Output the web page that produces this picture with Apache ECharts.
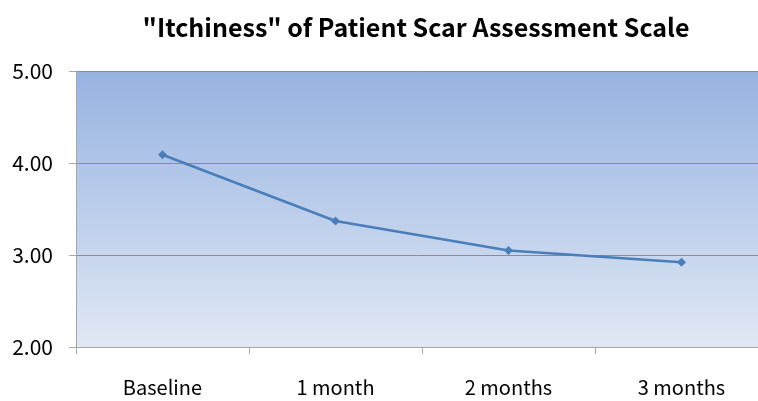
<!DOCTYPE html>
<html><head><meta charset="utf-8">
<script src="https://cdn.jsdelivr.net/npm/echarts@6/dist/echarts.min.js"></script>
<style>html,body{margin:0;padding:0;background:#fff;overflow:hidden}#c{width:758px;height:401px}</style>
</head><body><div id="c"></div>
<script>
const titleText = '"Itchiness" of Patient Scar Assessment Scale';
const categories = ['Baseline', '1 month', '2 months', '3 months'];
const itchiness = [4.09, 3.37, 3.05, 2.92];
const yMin = 2, yMax = 5, yInterval = 1;

const chart = echarts.init(document.getElementById('c'));
chart.setOption({
  animation: false,
  title: {
    text: titleText, left: 411, top: 10, textAlign: 'center',
    textStyle: { fontFamily: 'Noto Sans CJK KR', fontWeight: 'bold', fontSize: 25, color: '#000' }
  },
  grid: {
    left: 76, width: 692, top: 71, bottom: 54, show: true, borderWidth: 0,
    outerBoundsMode: 'none', containLabel: false,
    backgroundColor: new echarts.graphic.LinearGradient(0, 0, 0, 1, [
      { offset: 0, color: '#97b3e1' }, { offset: 1, color: '#e0e8f5' }
    ])
  },
  xAxis: {
    type: 'category', data: categories, boundaryGap: true,
    axisLine: { lineStyle: { color: '#a6a6a6', width: 1 } },
    axisTick: { show: true, length: 7, lineStyle: { color: '#a6a6a6' } },
    axisLabel: { color: '#000', fontSize: 20, margin: 30, fontFamily: 'Noto Sans CJK KR' }
  },
  yAxis: {
    type: 'value', min: yMin, max: yMax, interval: yInterval,
    axisLine: { show: true, lineStyle: { color: '#a6a6a6', width: 1 } },
    axisTick: { show: true, length: 7, lineStyle: { color: '#a6a6a6' } },
    splitLine: { show: true, lineStyle: { color: '#8c8c8c', width: 1 } },
    axisLabel: { color: '#000', fontSize: 21, margin: 23, fontFamily: 'Noto Sans CJK KR',
      formatter: v => v.toFixed(2) }
  },
  series: [{
    type: 'line', data: itchiness,
    lineStyle: { color: '#4a7ebb', width: 2.5 },
    itemStyle: { color: '#4a7ebb' },
    symbol: 'diamond', symbolSize: 9, showSymbol: true
  }]
});
</script></body></html>
